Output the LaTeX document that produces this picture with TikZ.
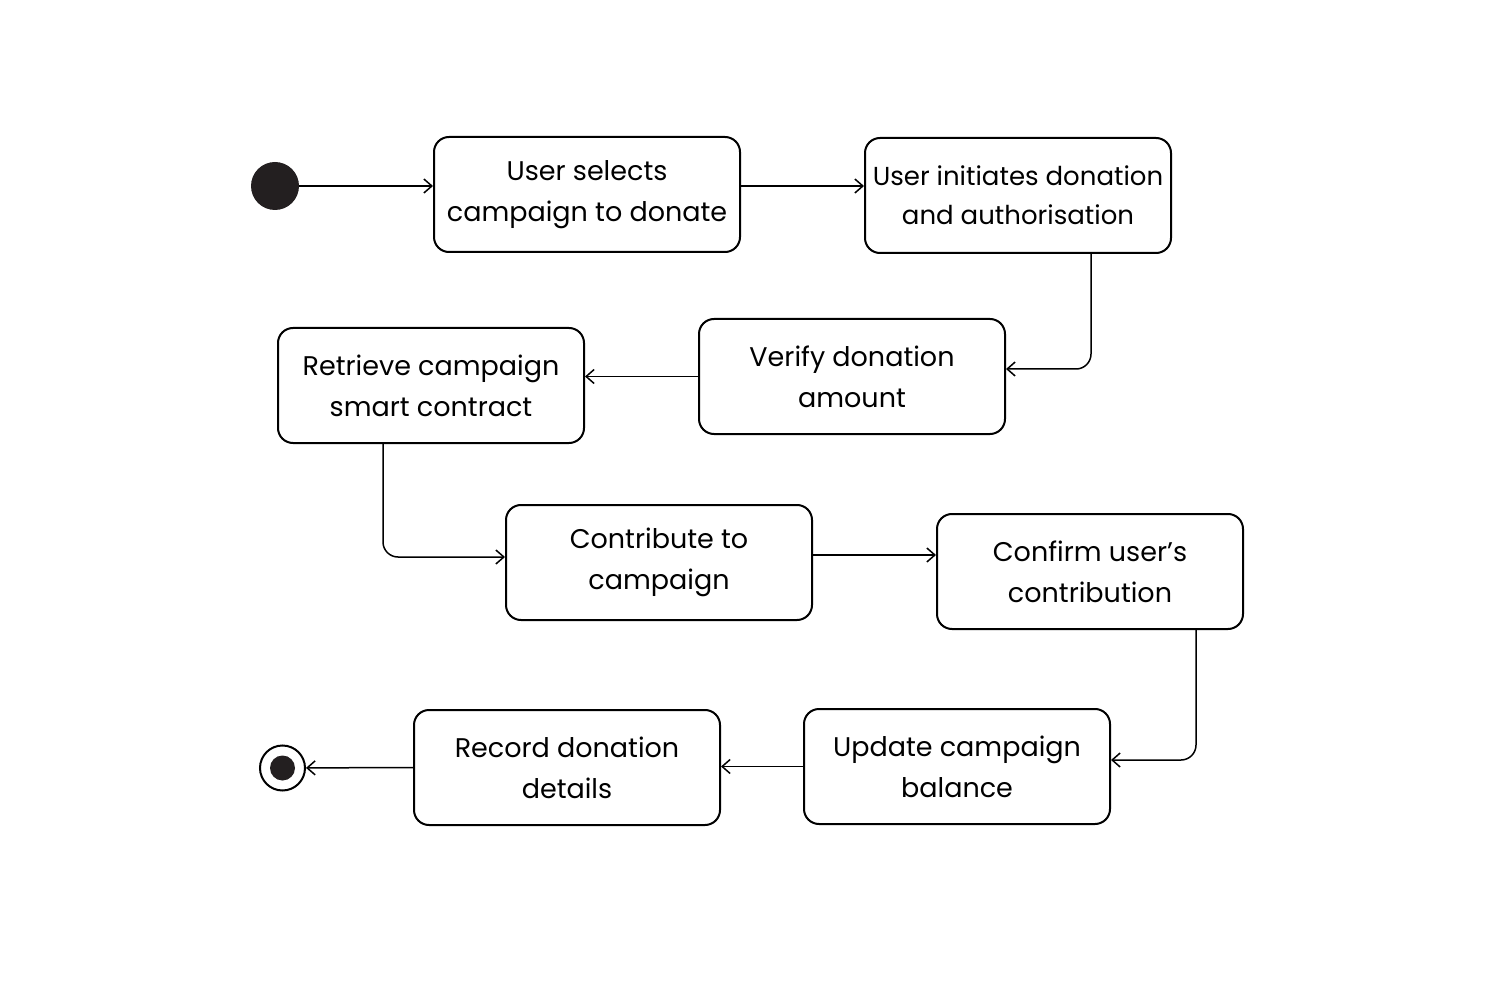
\documentclass[tikz,border=0pt]{standalone}
\usepackage{fontspec}
\setmainfont{Poppins}
\usetikzlibrary{arrows.meta,positioning,calc}
\definecolor{ink}{HTML}{231F20}

\begin{document}
\begin{tikzpicture}[x=1pt,y=1pt,
	state/.style={draw=black,line width=2pt,rounded corners=15pt,minimum width=306pt,minimum height=115pt,inner sep=0pt,align=center,font=\fontsize{27}{41}\selectfont},
	flow/.style={line width=1.5pt,rounded corners=15pt,-{Straight Barb[length=8pt,width=14pt]}}]
		\useasboundingbox (0,0) rectangle (1500,-1000);
		% start and end
		\node[circle,fill=ink,minimum size=48pt,inner sep=0pt] (start) at (275,-186) {};
		\node[circle,draw=black,line width=2pt,minimum size=45pt,inner sep=0pt] (stop) at (282.5,-768) {};
		\node[circle,fill=ink,minimum size=25pt,inner sep=0pt] (stopdot) at (stop) {};
		% states
		\node[state] (select) at (587,-194.5) {User selects\\campaign to donate};
		\node[state,font=\fontsize{26}{39}\selectfont] (initiate) at (1018,-195.5) {User initiates donation\\and authorisation};
		\node[state] (verify) at (852,-376.5) {Verify donation\\amount};
		\node[state] (retrieve) at (431,-385.5) {Retrieve campaign\\smart contract};
		\node[state] (contribute) at (659,-562.5) {Contribute to\\campaign};
		\node[state] (confirm) at (1090,-571.5) {Confirm user’s\\contribution};
		\node[state] (update) at (957,-766.5) {Update campaign\\balance};
		\node[state] (record) at (567,-767.5) {Record donation\\details};
		% transitions
		\draw[flow] (start) -- (start -| select.west);
		\draw[flow] (start -| select.east) -- (start -| initiate.west);
		\draw[flow] ([xshift=73pt]initiate.south) |- ([yshift=7.5pt]verify.east);
		\draw[flow] (verify.west) -- (verify.west -| retrieve.east);
		\draw[flow] ([xshift=-48pt]retrieve.south) |- ([yshift=5.5pt]contribute.west);
		\draw[flow] ([yshift=7.5pt]contribute.east) -- ([yshift=7.5pt]contribute.east -| confirm.west);
		\draw[flow] ([xshift=106pt]confirm.south) |- ([yshift=6.5pt]update.east);
		\draw[flow] (update.west) -- (update.west -| record.east);
		\draw[flow] (record.west) -- (stop);
\end{tikzpicture}
\end{document}
